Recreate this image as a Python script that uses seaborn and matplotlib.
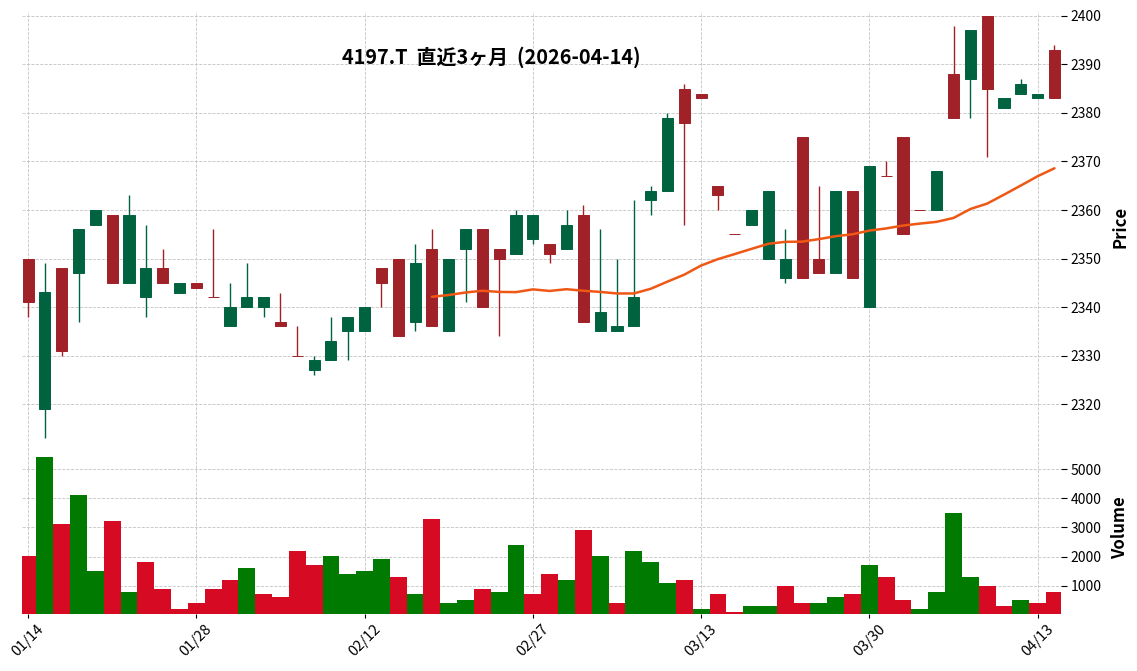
import numpy as np
import pandas as pd
import matplotlib
matplotlib.use("Agg")
import matplotlib.pyplot as plt
import seaborn as sns

# trading days (TSE), 2026-01-14 .. 2026-04-14
dates = pd.bdate_range("2026-01-14", "2026-04-14")
holidays = pd.to_datetime(["2026-02-11", "2026-02-23", "2026-03-20"])
dates = dates[~dates.isin(holidays)]

opens = [2350, 2319, 2348, 2347, 2357, 2359, 2345, 2342, 2348, 2343,
         2345, 2342, 2336, 2340, 2340, 2337, 2330, 2327, 2329, 2335,
         2335, 2348, 2350, 2337, 2352, 2335, 2352, 2356, 2352, 2351,
         2354, 2353, 2352, 2359, 2335, 2335, 2336, 2362, 2364, 2385,
         2384, 2365, 2355, 2357, 2350, 2346, 2375, 2350, 2347, 2364,
         2340, 2367, 2375, 2360, 2360, 2388, 2387, 2400, 2381, 2384,
         2383, 2393]
highs = [2350, 2349, 2348, 2356, 2360, 2359, 2363, 2357, 2352, 2345,
         2345, 2356, 2345, 2349, 2342, 2343, 2336, 2330, 2338, 2338,
         2340, 2348, 2350, 2353, 2356, 2350, 2356, 2356, 2352, 2360,
         2359, 2353, 2360, 2361, 2356, 2350, 2362, 2365, 2380, 2386,
         2384, 2365, 2355, 2360, 2364, 2356, 2375, 2365, 2364, 2364,
         2369, 2370, 2375, 2360, 2368, 2398, 2397, 2400, 2383, 2387,
         2384, 2394]
lows = [2338, 2313, 2330, 2337, 2357, 2345, 2345, 2338, 2345, 2343,
        2344, 2342, 2336, 2340, 2338, 2336, 2330, 2326, 2329, 2329,
        2335, 2340, 2334, 2335, 2336, 2335, 2341, 2340, 2334, 2351,
        2353, 2349, 2352, 2337, 2335, 2335, 2336, 2359, 2364, 2357,
        2383, 2360, 2355, 2357, 2350, 2345, 2346, 2347, 2347, 2346,
        2340, 2367, 2355, 2360, 2360, 2379, 2379, 2371, 2381, 2384,
        2383, 2383]
closes = [2341, 2343, 2331, 2356, 2360, 2345, 2359, 2348, 2345, 2345,
          2344, 2342, 2340, 2342, 2342, 2336, 2330, 2329, 2333, 2338,
          2340, 2345, 2334, 2349, 2336, 2350, 2356, 2340, 2350, 2359,
          2359, 2351, 2357, 2337, 2339, 2336, 2342, 2364, 2379, 2378,
          2383, 2363, 2355, 2360, 2364, 2350, 2346, 2347, 2364, 2346,
          2369, 2367, 2355, 2360, 2368, 2379, 2397, 2385, 2383, 2386,
          2384, 2383]
volumes = [2030, 5420, 3130, 4120, 1510, 3230, 790, 1820, 900, 210,
           420, 900, 1210, 1620, 730, 620, 2200, 1720, 2030, 1410,
           1510, 1930, 1310, 730, 3300, 420, 520, 900, 790, 2400,
           730, 1410, 1210, 2920, 2030, 420, 2200, 1820, 1100, 1210,
           210, 730, 100, 310, 310, 1000, 420, 420, 620, 730,
           1720, 1310, 520, 210, 790, 3500, 1310, 1000, 310, 520,
           420, 790]

df = pd.DataFrame({"Open": opens, "High": highs, "Low": lows,
                   "Close": closes, "Volume": volumes}, index=dates)
df["x"] = np.arange(len(df))
df["MA25"] = df["Close"].rolling(25).mean()
# volume colour: close vs previous close (first bar: open vs close)
prev_up = np.r_[df["Close"].iloc[0] > df["Open"].iloc[0],
                df["Close"].values[1:] > df["Close"].values[:-1]]
df["vdir"] = np.where(prev_up, "up", "down")

UP, DOWN = "#006340", "#a02128"
VUP, VDOWN = "#007a00", "#d60a22"
MA_COLOR = "#ef5714"
GRID = "#c4c4c4"

sns.set_theme(style="white")
plt.rcParams["font.family"] = ["Noto Sans CJK JP", "DejaVu Sans"]
plt.rcParams["text.color"] = "black"
plt.rcParams["axes.labelcolor"] = "black"
plt.rcParams["xtick.color"] = "black"
plt.rcParams["ytick.color"] = "black"

W, H = 1137, 671
fig = plt.figure(figsize=(W / 100, H / 100), dpi=100)
left, right = 22 / W, 1060.7 / W
ax_p = fig.add_axes([left, (H - 441) / H, right - left, (441 - 12) / H])
ax_v = fig.add_axes([left, (H - 614) / H, right - left, (614 - 441) / H], sharex=ax_p)

# candles
cols = np.where(df["Close"] > df["Open"], UP, DOWN)
body_lo = np.minimum(df["Open"], df["Close"])
body_h = (df["Close"] - df["Open"]).abs()
ax_p.vlines(df["x"], df["Low"], df["High"], colors=cols, linewidth=1.0, zorder=2)
ax_p.bar(df["x"], body_h, bottom=body_lo, width=0.66, color=cols,
         edgecolor=cols, linewidth=0.7, zorder=3)
sns.lineplot(data=df, x="x", y="MA25", color=MA_COLOR, linewidth=1.8,
             ax=ax_p, zorder=4)

# volume
sns.barplot(data=df, x="x", y="Volume", hue="vdir", native_scale=True,
            palette={"up": VUP, "down": VDOWN}, dodge=False, width=1.0,
            saturation=1, linewidth=0, legend=False, ax=ax_v)

ticks = list(range(0, len(df), 10))
ax_v.set_xticks(ticks)
ax_v.set_xticklabels([df.index[i].strftime("%m/%d") for i in ticks],
                     rotation=45, fontsize=10.5)
ax_v.set_xlim(-0.36, 61.37)

ax_p.set_ylim(2312.4, 2400.8)
ax_p.set_yticks(range(2320, 2401, 10))
ax_v.set_ylim(0.3 * min(volumes), 1.1 * max(volumes))
ax_v.set_yticks(range(1000, 5001, 1000))

for ax in (ax_p, ax_v):
    ax.set_facecolor("white")
    for s in ax.spines.values():
        s.set_visible(False)
    ax.yaxis.tick_right()
    ax.yaxis.set_label_position("right")
    ax.grid(True, linestyle="--", color=GRID, linewidth=0.6)
    ax.set_axisbelow(True)
    ax.tick_params(axis="y", which="major", right=True, left=False,
                   length=4, width=0.8, color="black", labelsize=10, pad=3)
    ax.set_xlabel("")

ax_p.tick_params(axis="x", bottom=False, labelbottom=False)
ax_v.tick_params(axis="x", bottom=True, length=3, width=0.8, color="black", pad=3)
ax_p.set_ylabel("Price", fontsize=12, fontweight="bold", labelpad=7)
ax_v.set_ylabel("Volume", fontsize=12, fontweight="bold", labelpad=7)

fig.text(491 / W, 1 - 57 / H, "4197.T  直近3ヶ月  (2026-04-14)",
         ha="center", va="center", fontsize=14.3, fontweight="bold")

fig.savefig("out.png", dpi=100)
